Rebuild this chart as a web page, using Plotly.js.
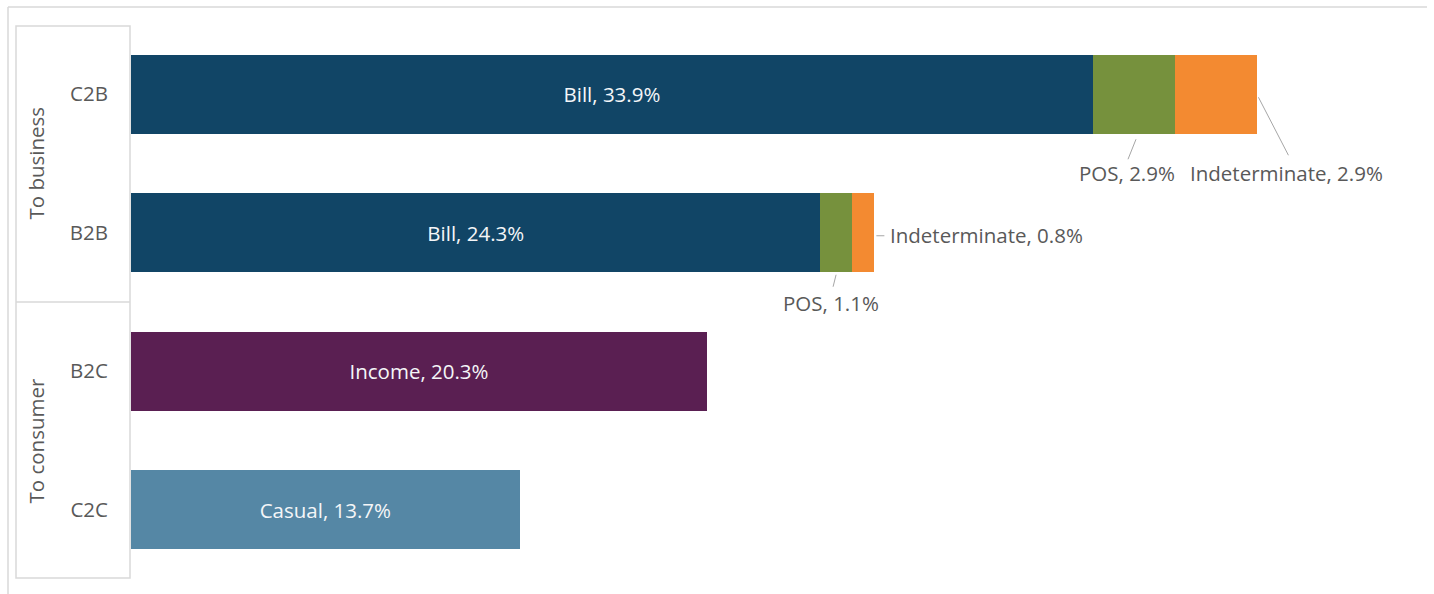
<!DOCTYPE html>
<html>
<head>
<meta charset="utf-8">
<script src="https://cdn.plot.ly/plotly-3.0.1.min.js"></script>
<style>
  body { margin: 0; background: #fff; }
  #chart { width: 1434px; height: 594px; }
</style>
</head>
<body>
<div id="chart"></div>
<script>
// flow types, top to bottom
var flows = ["C2B", "B2B", "B2C", "C2C"];
var groups = ["To business", "To consumer"];

// share of transactions (%) per purpose
var bill = [33.9, 24.3, 0, 0];
var pos = [2.9, 1.1, 0, 0];
var indeterminate = [2.9, 0.8, 0, 0];
var income = [0, 0, 20.3, 0];
var casual = [0, 0, 0, 13.7];

var font = "Open Sans, Noto Sans, sans-serif";
var fs = 20.5;

function seg(name, vals, color, showText) {
  return {
    type: "bar",
    orientation: "h",
    name: name,
    y: flows,
    x: vals,
    marker: { color: color },
    text: vals.map(v => v ? name + ", " + v.toFixed(1) + "%" : ""),
    textposition: showText ? "inside" : "none",
    insidetextanchor: "middle",
    textfont: { color: "#f4f6f8", size: fs, family: font },
    hoverinfo: "text"
  };
}

var data = [
  seg("Bill", bill, "#114566", true),
  seg("POS", pos, "#76913d", false),
  seg("Indeterminate", indeterminate, "#f38a31", false),
  seg("Income", income, "#5a1f52", true),
  seg("Casual", casual, "#5587a5", true)
];

// outside labels for the small segments
var posMid0 = bill[0] + pos[0] / 2;
var end0 = bill[0] + pos[0] + indeterminate[0];
var posMid1 = bill[1] + pos[1] / 2;
var end1 = bill[1] + pos[1] + indeterminate[1];

var lblFont = { size: fs, color: "#595959", family: font };
var annotations = [
  { x: posMid0, y: "C2B", text: "POS, " + pos[0].toFixed(1) + "%", showarrow: false, xshift: -7, yshift: -79, font: lblFont },
  { x: end0, y: "C2B", text: "Indeterminate, " + indeterminate[0].toFixed(1) + "%", showarrow: false, xshift: 29, yshift: -79, font: lblFont },
  { x: end1, y: "B2B", text: "Indeterminate, " + indeterminate[1].toFixed(1) + "%", showarrow: false, xanchor: "left", xshift: 14, yshift: -2, font: lblFont },
  { x: posMid1, y: "B2B", text: "POS, " + pos[1].toFixed(1) + "%", showarrow: false, xshift: -5, yshift: -70, font: lblFont },
  // group labels
  { xref: "paper", yref: "paper", x: 0, xshift: -96, y: 0.75, xanchor: "center", yanchor: "middle", text: groups[0], textangle: -90, showarrow: false, font: lblFont },
  { xref: "paper", yref: "paper", x: 0, xshift: -96, y: 0.25, xanchor: "center", yanchor: "middle", text: groups[1], textangle: -90, showarrow: false, font: lblFont }
];

var lead = { color: "#a6a6a6", width: 1 };
var frame = { color: "#d9d9d9", width: 1.5 };
var shapes = [
  // leader lines
  { type: "line", xref: "x", yref: "y", xsizemode: "pixel", ysizemode: "pixel", xanchor: posMid0, yanchor: "C2B", x0: 2, y0: -45, x1: -6, y1: -65, line: lead },
  { type: "line", xref: "x", yref: "y", xsizemode: "pixel", ysizemode: "pixel", xanchor: end0, yanchor: "C2B", x0: 1, y0: -3, x1: 31, y1: -61, line: lead },
  { type: "line", xref: "x", yref: "y", xsizemode: "pixel", ysizemode: "pixel", xanchor: end1, yanchor: "B2B", x0: 2, y0: -3, x1: 10, y1: -3, line: lead },
  { type: "line", xref: "x", yref: "y", xsizemode: "pixel", ysizemode: "pixel", xanchor: posMid1, yanchor: "B2B", x0: 0, y0: -42, x1: -3, y1: -54, line: lead },
  // outer frame
  { type: "line", xref: "paper", yref: "paper", xsizemode: "pixel", ysizemode: "pixel", xanchor: 0, yanchor: 1, x0: -123, x1: 1296, y0: 18, y1: 18, line: frame },
  { type: "line", xref: "paper", yref: "paper", xsizemode: "pixel", ysizemode: "pixel", xanchor: 0, yanchor: 1, x0: -123, x1: -123, y0: 18, y1: -580, line: frame },
  // category box
  { type: "rect", xref: "paper", yref: "paper", xsizemode: "pixel", ysizemode: "pixel", xanchor: 0, yanchor: 1, x0: -115, x1: -1, y0: -1, y1: -553, line: frame },
  { type: "line", xref: "paper", yref: "paper", xsizemode: "pixel", xanchor: 0, x0: -115, x1: -1, y0: 0.5, y1: 0.5, line: frame }
];

var layout = {
  width: 1434,
  height: 594,
  margin: { l: 131, r: 12, t: 25, b: 15 },
  paper_bgcolor: "#ffffff",
  plot_bgcolor: "#ffffff",
  barmode: "stack",
  bargap: 0.43,
  showlegend: false,
  xaxis: { range: [0, 45.5], visible: false, fixedrange: true },
  yaxis: {
    type: "category",
    categoryorder: "array",
    categoryarray: flows,
    range: [3.5, -0.5],
    showgrid: false,
    zeroline: false,
    showline: false,
    ticks: "",
    ticklabelstandoff: 22,
    tickfont: { size: fs, color: "#595959", family: font }
  },
  annotations: annotations,
  shapes: shapes
};

Plotly.newPlot("chart", data, layout, { displayModeBar: false, staticPlot: true });
</script>
</body>
</html>
